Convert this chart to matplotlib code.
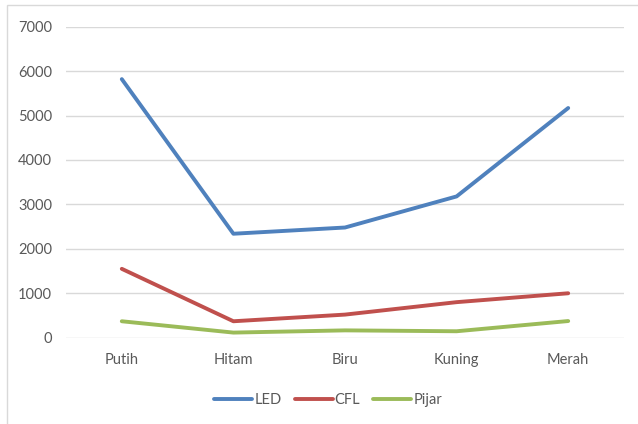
import matplotlib
matplotlib.use("Agg")
from matplotlib import pyplot as plt
from matplotlib.patches import Rectangle

categories = ["Putih", "Hitam", "Biru", "Kuning", "Merah"]
led = [5820, 2340, 2480, 3180, 5170]
cfl = [1550, 370, 520, 800, 1000]
pijar = [370, 115, 165, 145, 375]

plt.rcParams['font.family'] = ['Lato', 'DejaVu Sans']

fig = plt.figure(figsize=(6.38, 4.24), dpi=100)
ax = fig.add_axes([66 / 638, 1 - 337.7 / 424, (624 - 66) / 638, (337.7 - 26.7) / 424])

x = range(len(categories))
ax.plot(x, led, color="#4F81BD", lw=2.8, label="LED", solid_capstyle="round")
ax.plot(x, cfl, color="#C0504D", lw=2.8, label="CFL", solid_capstyle="round")
ax.plot(x, pijar, color="#9BBB59", lw=2.8, label="Pijar", solid_capstyle="round")

ax.set_xlim(-0.5, len(categories) - 0.5)
ax.set_ylim(0, 7000)
ax.set_yticks(range(0, 7001, 1000))
ax.set_xticks(list(x))
ax.set_xticklabels(categories)
ax.grid(axis="y", color="#D9D9D9", lw=1)
ax.set_axisbelow(True)
for s in ax.spines.values():
    s.set_visible(False)
ax.tick_params(length=0, labelsize=10.5, labelcolor="#595959")
ax.tick_params(axis="y", pad=10)
ax.tick_params(axis="x", pad=11)

leg = ax.legend(loc="center", bbox_to_anchor=(0.47, -0.2), ncol=3, frameon=False,
                fontsize=10.5, handlelength=2.6, columnspacing=0.9, handletextpad=0.15)
for t in leg.get_texts():
    t.set_color("#595959")

# chart area border (only top and left edges fall inside the image)
fig.patches.append(Rectangle((7 / 638, -0.05), 1.0, 1.05 - 5 / 424,
                             transform=fig.transFigure, fill=False,
                             edgecolor="#D9D9D9", lw=1))

fig.savefig("out.png", dpi=100)
